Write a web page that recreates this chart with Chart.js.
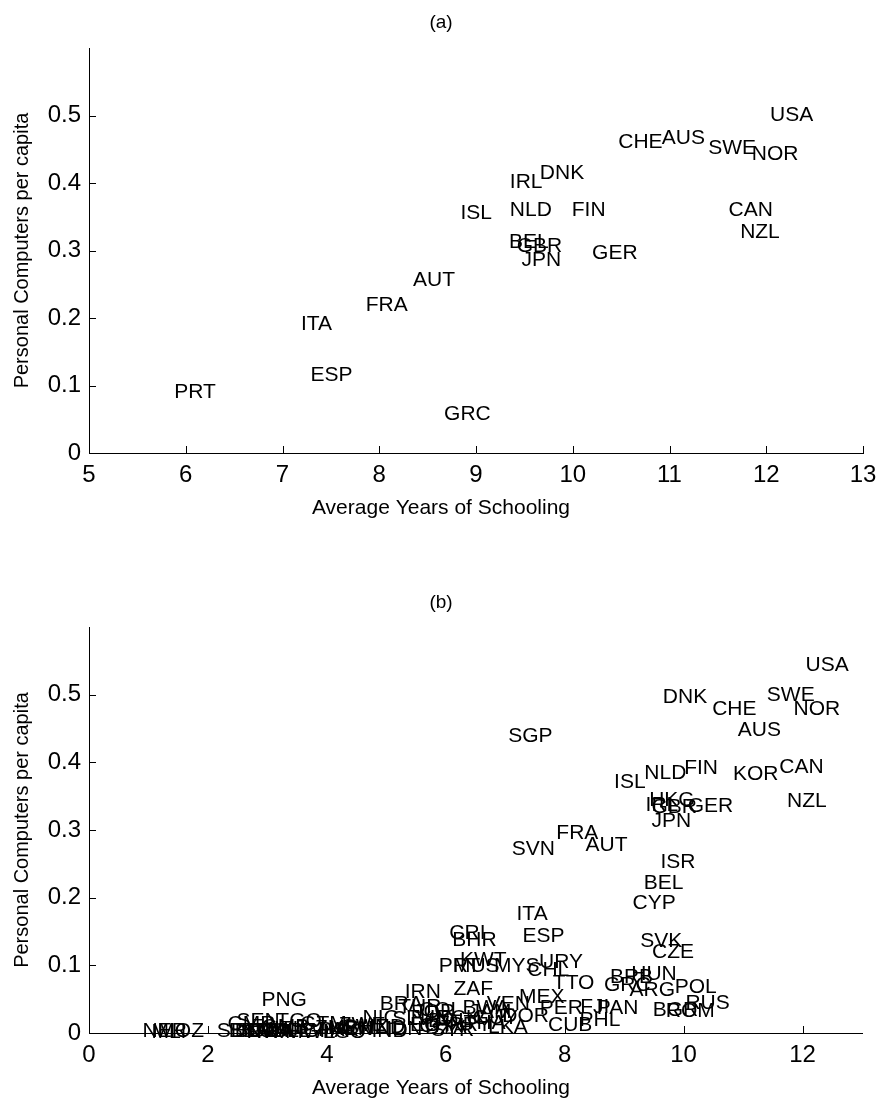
<!DOCTYPE html>
<html><head><meta charset="utf-8">
<script src="https://cdn.jsdelivr.net/npm/chart.js@4.4.1/dist/chart.umd.min.js"></script>
<style>
html,body{margin:0;padding:0;background:#fff;}
#wrap{position:relative;width:882px;height:1107px;overflow:hidden;}
.c{position:absolute;left:0;width:882px;}
</style></head><body>
<div id="wrap">
<div class="c" style="top:0;height:553px"><canvas id="ca"></canvas></div>
<div class="c" style="top:553px;height:554px"><canvas id="cb"></canvas></div>
</div>
<script>
// ---- Panel (a) data ----
const codesA  = ['USA','CHE','AUS','SWE','NOR','IRL','DNK','ISL','NLD','FIN','CAN','NZL','BEL','GBR','JPN','GER','AUT','FRA','ITA','ESP','PRT','GRC'];
const schoolA = [12.04,10.47,10.92,11.40,11.85,9.35,9.66,8.84,9.35,9.99,11.61,11.73,9.34,9.42,9.47,10.20,8.35,7.86,7.19,7.29,5.88,8.67];
const pcA     = [0.500,0.461,0.467,0.451,0.443,0.401,0.414,0.355,0.359,0.360,0.359,0.327,0.312,0.307,0.286,0.296,0.256,0.219,0.191,0.115,0.0905,0.057];

// ---- Panel (b) data ----
const codesB  = ['USA','SWE','DNK','CHE','NOR','AUS','SGP','CAN','FIN','NLD','KOR','ISL','HKG','NZL','IRL','GER','GBR','JPN','FRA','AUT','SVN','ISR','BEL','CYP','ITA','CRI','ESP','BHR','SVK','CZE','KWT','URY','PRT','MUS','MYS','CHL','HUN','BRB','TTO','GRC','POL','ZAF','ARG','IRN','MEX','PNG','RUS','BRA','VEN','BWA','PER','FJI','PAN','TUR','ROM','BGR','JOR','JAM','COL','GUY','DOR','ECU','TUN','NIC','SLV','SEN','PHL','TGO','BOL','CMR','GTM','EGY','PRY','CUB','ZWE','CHN','SWZ','HND','GMB','LKA','THA','ZMB','DZA','KEN','IDN','HTI','IND','PAK','SYR','GHA','MOZ','BEN','NPL','NER','SDN','BGD','UGA','TZA','CAF','SLE','MLI','RWA','MWI','LSO'];
const schoolB = [12.05,11.40,9.65,10.48,11.85,10.91,7.05,11.61,10.01,9.34,10.83,8.83,9.42,11.74,9.36,10.07,9.46,9.46,7.86,8.35,7.11,9.61,9.33,9.14,7.19,6.06,7.29,6.11,9.27,9.47,6.24,7.57,5.88,6.12,6.81,7.37,9.12,8.76,7.80,8.66,9.85,6.13,9.09,5.31,7.23,2.90,10.03,4.89,6.69,6.28,7.58,8.26,8.54,5.20,9.70,9.48,5.45,6.40,5.55,6.45,6.95,5.85,5.35,4.60,5.10,2.48,8.25,3.15,5.70,2.33,3.55,5.40,6.05,7.72,4.20,5.55,4.25,4.55,2.90,6.71,6.30,3.80,5.65,4.05,5.00,2.95,4.75,3.85,5.75,3.60,1.15,2.35,2.55,0.90,2.15,2.45,2.65,2.75,2.85,3.10,1.05,2.65,3.30,3.95];
const pcB     = [0.543,0.499,0.496,0.479,0.478,0.447,0.438,0.393,0.392,0.384,0.382,0.371,0.344,0.342,0.337,0.335,0.333,0.313,0.295,0.277,0.272,0.252,0.221,0.192,0.176,0.148,0.143,0.137,0.135,0.120,0.108,0.104,0.099,0.098,0.099,0.093,0.087,0.083,0.074,0.071,0.068,0.065,0.063,0.060,0.053,0.049,0.044,0.042,0.042,0.037,0.037,0.038,0.037,0.038,0.032,0.033,0.030,0.030,0.033,0.022,0.025,0.022,0.022,0.022,0.020,0.018,0.019,0.017,0.017,0.013,0.013,0.012,0.012,0.011,0.011,0.010,0.008,0.008,0.008,0.008,0.015,0.007,0.007,0.005,0.005,0.005,0.003,0.004,0.004,0.003,0.003,0.003,0.003,0.002,0.002,0.002,0.002,0.002,0.002,0.002,0.001,0.001,0.001,0.001];

const xTitle = 'Average Years of Schooling';
const yTitle = 'Personal Computers per capita';

const FAMILY = "'Liberation Sans', Arial, Helvetica, sans-serif";
Chart.defaults.font.family = FAMILY;
Chart.defaults.color = '#000';

const textLabels = {
  id: 'textLabels',
  afterDatasetsDraw(chart, args, opts) {
    const ctx = chart.ctx;
    const meta = chart.getDatasetMeta(0);
    ctx.save();
    ctx.font = opts.size + 'px ' + FAMILY;
    ctx.fillStyle = '#000';
    ctx.textAlign = 'left';
    ctx.textBaseline = 'middle';
    meta.data.forEach((pt, i) => ctx.fillText(opts.codes[i], pt.x, pt.y));
    ctx.restore();
  }
};
const inTicks = {
  id: 'inTicks',
  afterDraw(chart) {
    const {ctx, chartArea, scales: {x, y}} = chart;
    ctx.save();
    ctx.strokeStyle = '#000';
    ctx.lineWidth = 1;
    ctx.beginPath();
    x.ticks.forEach(t => {
      const px = Math.round(x.getPixelForValue(t.value)) + 0.5;
      ctx.moveTo(px, chartArea.bottom);
      ctx.lineTo(px, chartArea.bottom - 7);
    });
    y.ticks.forEach(t => {
      const py = Math.round(y.getPixelForValue(t.value)) + 0.5;
      ctx.moveTo(chartArea.left, py);
      ctx.lineTo(chartArea.left + 7, py);
    });
    ctx.stroke();
    ctx.restore();
  }
};

function makeChart(id, title, codes, xs, ys, xmin, xmax, xstep, titlePad, xTitlePad, rightPad) {
  return new Chart(document.getElementById(id), {
    type: 'scatter',
    data: { datasets: [{ data: xs.map((v, i) => ({x: v, y: ys[i]})), pointRadius: 0, pointHoverRadius: 0 }] },
    options: {
      responsive: true, maintainAspectRatio: false, animation: false,
      layout: { padding: 0 },
      events: [],
      plugins: {
        legend: { display: false },
        tooltip: { enabled: false },
        title: { display: true, text: title, color: '#000', font: { size: 19, weight: 'normal' }, padding: titlePad },
        subtitle: { display: true, position: 'bottom', text: xTitle, color: '#000', font: { size: 21, weight: 'normal' }, padding: xTitlePad },
        textLabels: { codes: codes, size: 21 }
      },
      scales: {
        x: {
          type: 'linear', min: xmin, max: xmax,
          grid: { display: true, drawOnChartArea: false, drawTicks: false },
          border: { display: true, color: '#000', width: 1 },
          ticks: { stepSize: xstep, includeBounds: false, autoSkip: false, maxRotation: 0, padding: 8, color: '#000', font: { size: 24 }, callback: v => String(v) },
          afterFit(s) { s.height = 42.4; s.paddingLeft = 0; s.paddingRight = rightPad; }
        },
        y: {
          type: 'linear', min: 0, max: 0.6,
          grid: { display: true, drawOnChartArea: false, drawTicks: false },
          border: { display: true, color: '#000', width: 1 },
          ticks: { stepSize: 0.1, autoSkip: false, padding: 8, color: '#000', font: { size: 24 }, callback: v => String(Math.round(v * 10) / 10) },
          afterBuildTicks(s) { s.ticks = s.ticks.filter(t => t.value < 0.55); },
          title: { display: true, text: yTitle, color: '#000', font: { size: 20 }, padding: { top: 10, bottom: 0 } },
          afterFit(s) { s.width = 89; s.paddingTop = 0; s.paddingBottom = 0; }
        }
      }
    },
    plugins: [textLabels, inTicks]
  });
}

makeChart('ca', '(a)', codesA, schoolA, pcA, 5, 13, 1, {top: 11, bottom: 14.2}, {top: 0, bottom: 32.4}, 19);
makeChart('cb', '(b)', codesB, schoolB, pcB, 0, 13, 2, {top: 38.6, bottom: 12.6}, {top: 0, bottom: 6.4}, 20);
</script>
</body></html>
